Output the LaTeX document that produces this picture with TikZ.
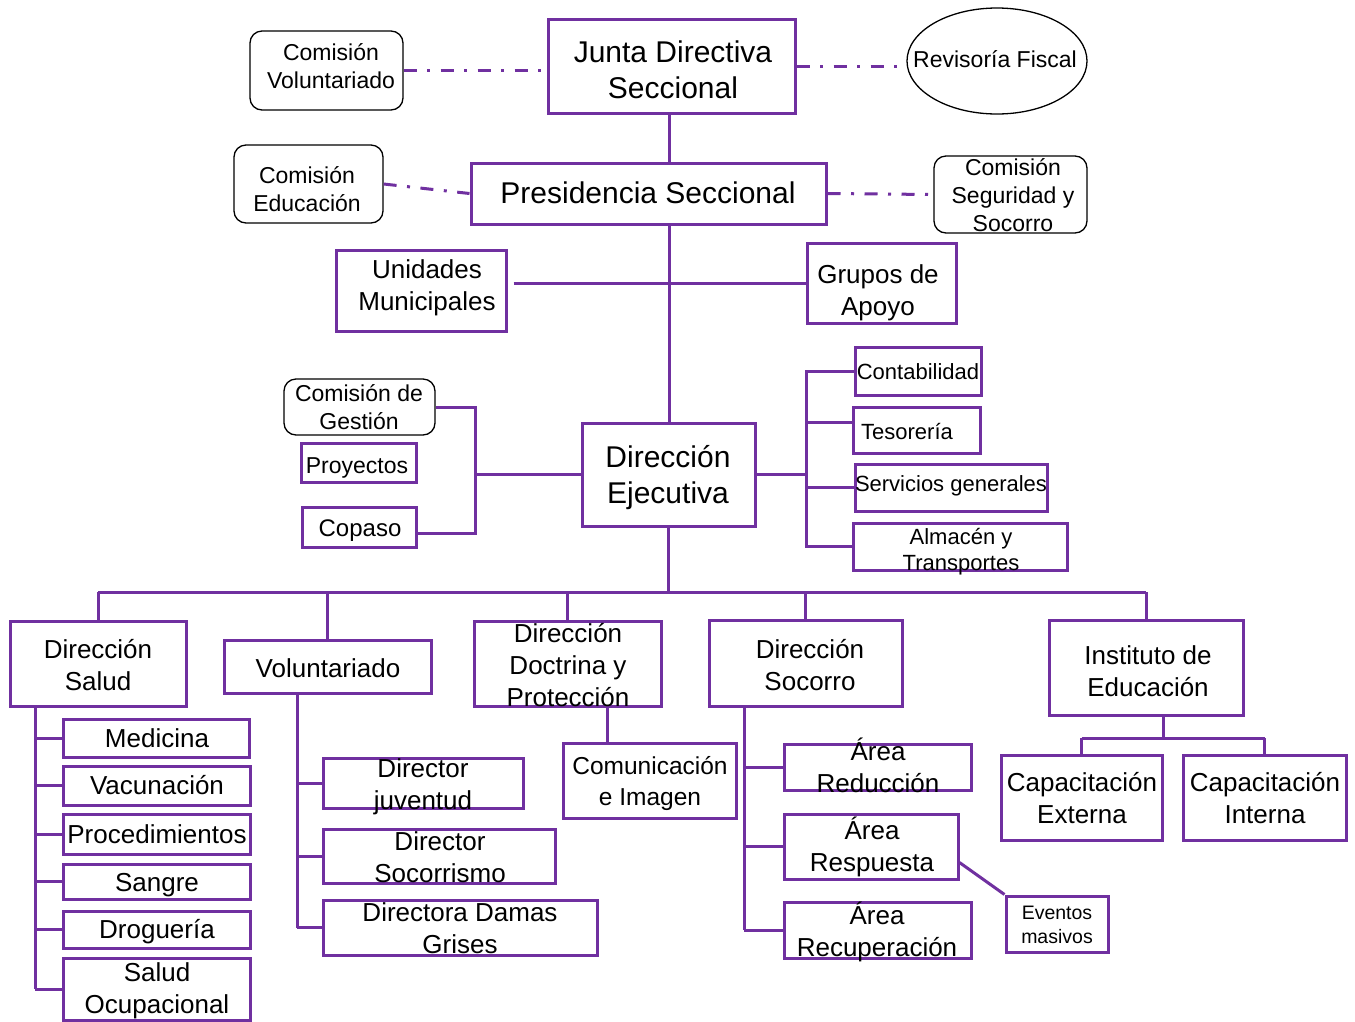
\documentclass[tikz,border=0pt]{standalone}
\usepackage{fontspec}
\setmainfont{Liberation Sans}
\usetikzlibrary{shapes.geometric}
\definecolor{orgpurple}{HTML}{7030A0}

% framed box from its corners: \ob{name}{style}{x1}{y1}{x2}{y2}
\newcommand{\ob}[6]{\node[#2, minimum width={(#5-#3)*1pt}, minimum height={(#6-#4)*1pt}] (#1) at ({(#3+#5)/2},{(#4+#6)/2}) {};}

\tikzset{
  box/.style={draw=orgpurple, line width=3pt, inner sep=0pt},
  rbox/.style={draw=black, line width=1.3pt, rounded corners=12pt, inner sep=0pt},
  lbl/.style={inner sep=0pt, align=center, text=black},
  link/.style={draw=orgpurple, line width=3pt},
  dlink/.style={draw=orgpurple, line width=3pt, dash pattern=on 13pt off 10.5pt on 3pt off 10.5pt},
  fA/.style={font=\fontsize{30}{36}\selectfont},
  fB/.style={font=\fontsize{26}{32}\selectfont},
  fBs/.style={font=\fontsize{24.5}{31}\selectfont},
  fC/.style={font=\fontsize{23}{28}\selectfont},
  fD/.style={font=\fontsize{22}{26}\selectfont},
  fE/.style={font=\fontsize{19.5}{24}\selectfont},
}

\begin{document}
\begin{tikzpicture}[x=1pt, y=-1pt]
\fill[white] (0,0) rectangle (1355,1021);
\useasboundingbox (0,0) rectangle (1355,1021);

% ---- top level ----
\ob{junta}{box}{548}{19}{795}{113}
\ob{pres}{box}{471}{163}{826}{224}
\ob{comvol}{rbox}{250}{31}{403}{110}
\ob{comedu}{rbox}{234}{145}{383}{223}
\ob{comseg}{rbox}{934}{156}{1087}{233}
\node[ellipse, draw=black, line width=1.3pt, minimum width=180pt, minimum height=106pt, inner sep=0pt] (rev) at (997,61) {};
\ob{unid}{box}{336}{250}{506}{331}
\ob{grupos}{box}{807}{243}{956}{323}
\ob{dire}{box}{582}{423}{755}{526}

% ---- staff of the executive direction ----
\ob{comges}{rbox}{284}{379}{435}{435}
\ob{proy}{box}{301}{443}{416}{482}
\ob{copaso}{box}{302}{507}{416}{547}
\ob{conta}{box}{855}{347}{981}{395}
\ob{teso}{box}{853}{407}{980}{453}
\ob{serv}{box}{855}{464}{1047}{511}
\ob{alm}{box}{853}{523}{1067}{570}

% ---- directions ----
\ob{salud}{box}{10}{621}{186}{706}
\ob{vol}{box}{224}{640}{431}{693}
\ob{doct}{box}{474}{621}{661}{706}
\ob{soc}{box}{709}{620}{902}{706}
\ob{inst}{box}{1049}{620}{1243}{715}

\ob{med}{box}{63}{719}{249}{757}
\ob{vac}{box}{63}{766}{250}{805}
\ob{proc}{box}{63}{814}{250}{854}
\ob{sangre}{box}{63}{864}{250}{899}
\ob{drog}{box}{63}{911}{250}{948}
\ob{socup}{box}{63}{958}{250}{1020}

\ob{juv}{box}{323}{758}{523}{808}
\ob{socm}{box}{323}{829}{555}{883}
\ob{damas}{box}{323}{900}{597}{955}

\ob{com}{box}{563}{743}{736}{818}

\ob{red}{box}{784}{744}{971}{790}
\ob{resp}{box}{784}{814}{958}{879}
\ob{recup}{box}{784}{902}{971}{958}
\ob{evt}{box}{1006}{896}{1108}{952}

\ob{capext}{box}{1001}{755}{1162}{840}
\ob{capint}{box}{1183}{755}{1346}{840}

% ---- texts ----
\node[lbl, fA] (junta-t) at (673,70) {Junta Directiva\\Seccional};
\node[lbl, fA] (pres-t) at (648,193) {Presidencia Seccional};
\node[lbl, fA] (dire-t) at (668,478) {Dirección\\Ejecutiva};
\node[lbl, fC] (comvol-t) at (331,66) {Comisión\\Voluntariado};
\node[lbl, fC] (comedu-t) at (307,189) {Comisión\\Educación};
\node[lbl, fC] (comseg-t) at (1013,195) {Comisión\\Seguridad y\\Socorro};
\node[lbl, fC] (rev-t) at (995,59) {Revisoría Fiscal};
\node[lbl, fB] (unid-t) at (427,288) {Unidades\\Municipales};
\node[lbl, fB] (grupos-t) at (878,293) {Grupos de\\Apoyo};

\node[lbl, fC] (comges-t) at (359,407) {Comisión de\\Gestión};
\node[lbl, fC] (proy-t) at (357,468) {Proyectos};
\node[lbl, font=\fontsize{24}{28}\selectfont] (copaso-t) at (360,531) {Copaso};
\node[lbl, fD] (conta-t) at (918,372) {Contabilidad};
\node[lbl, fD] (teso-t) at (907,431) {Tesorería};
\node[lbl, fD] (serv-t) at (951,486) {Servicios generales};
\node[lbl, fD] (alm-t) at (961,552) {Almacén y\\Transportes};

\node[lbl, fB] (salud-t) at (98,665) {Dirección\\Salud};
\node[lbl, fB] (vol-t) at (328,668) {Voluntariado};
\node[lbl, fB] (doct-t) at (568,665) {Dirección\\Doctrina y\\Protección};
\node[lbl, fB] (soc-t) at (810,665) {Dirección\\Socorro};
\node[lbl, fB] (inst-t) at (1148,671) {Instituto de\\Educación};

\node[lbl, fB] (med-t) at (157,738) {Medicina};
\node[lbl, fB] (vac-t) at (157,785) {Vacunación};
\node[lbl, fB] (proc-t) at (157,834) {Procedimientos};
\node[lbl, fB] (sangre-t) at (157,885) {Sangre};
\node[lbl, fB] (drog-t) at (157,932) {Droguería};
\node[lbl, fB] (socup-t) at (157,991) {Salud\\Ocupacional};

\node[lbl, fB] (juv-t) at (423,787) {Director\\juventud};
\node[lbl, fB] (socm-t) at (440,857) {Director\\Socorrismo};
\node[lbl, fB] (damas-t) at (460,928) {Directora Damas\\Grises};
\node[lbl, fBs] (com-t) at (650,784) {Comunicación\\e Imagen};

\node[lbl, fB] (red-t) at (878,765) {Área\\Reducción};
\node[lbl, fB] (resp-t) at (872,847) {Área\\Respuesta};
\node[lbl, fB] (recup-t) at (877,932) {Área\\Recuperación};
\node[lbl, fE] (evt-t) at (1057,925) {Eventos\\masivos};
\node[lbl, fB] (capext-t) at (1082,798) {Capacitación\\Externa};
\node[lbl, fB] (capint-t) at (1265,798) {Capacitación\\Interna};

% ---- bus positions ----
\coordinate (spine) at (669,0);
\coordinate (hbar) at (0,283);
\coordinate (lbus) at (475,0);
\coordinate (rbus) at (806,0);
\coordinate (bbus) at (0,592);
\coordinate (sbus) at (35,0);
\coordinate (vbus) at (297,0);
\coordinate (cdrop) at (607,0);
\coordinate (obus) at (744,0);
\coordinate (idrop) at (1163,0);
\coordinate (ibus) at (0,738);

% ---- advisory links ----
\draw[dlink] (comvol.east) -- (comvol.east -| junta.west);
\draw[dlink] (junta.east) -- (junta.east -| rev.west);
\draw[dlink] (comedu.east) -- (pres.west);
\draw[dlink] (pres.east) -- (comseg.west);

% ---- main spine ----
\draw[link] (junta.south -| spine) -- (pres.north -| spine);
\draw[link] (pres.south -| spine) -- (dire.north -| spine);
\draw[link] ([xshift=6pt]unid.east |- hbar) -- (grupos.west |- hbar);

% ---- executive staff ----
\draw[link] (comges.east) -- (comges.east -| lbus) -- ([yshift=-6pt]copaso.east -| lbus) -- ([yshift=-6pt]copaso.east);
\draw[link] (dire.west) -- (dire.west -| lbus);
\draw[link] (dire.east) -- (dire.east -| rbus);
\draw[link] (conta.west) -- (conta.west -| rbus) -- (alm.west -| rbus) -- (alm.west);
\draw[link] ([yshift=8pt]teso.west -| rbus) -- ([yshift=8pt]teso.west);
\draw[link] (serv.west -| rbus) -- (serv.west);

% ---- directions bus ----
\draw[link] (dire.south) -- (dire.south |- bbus);
\draw[link] (salud.north |- bbus) -- (inst.north |- bbus);
\foreach \n in {salud, vol, doct, soc, inst}
  \draw[link] (\n.north |- bbus) -- (\n.north);

% ---- health ----
\draw[link] (salud.south -| sbus) -- (socup.west -| sbus);
\foreach \n in {med, vac, proc, sangre, drog, socup}
  \draw[link] (\n.west -| sbus) -- (\n.west);

% ---- volunteers ----
\draw[link] (vol.south -| vbus) -- (damas.west -| vbus);
\foreach \n in {juv, socm, damas}
  \draw[link] (\n.west -| vbus) -- (\n.west);

% ---- doctrine ----
\draw[link] (doct.south -| cdrop) -- (com.north -| cdrop);

% ---- relief ----
\draw[link] (soc.south -| obus) -- (recup.west -| obus);
\foreach \n in {red, resp, recup}
  \draw[link] (\n.west -| obus) -- (\n.west);
\draw[link] ([yshift=-16pt]resp.east) -- (evt.north west);

% ---- education ----
\draw[link] (inst.south -| idrop) -- (idrop |- ibus);
\draw[link] (capext.north |- ibus) -- (capint.north |- ibus);
\draw[link] (capext.north |- ibus) -- (capext.north);
\draw[link] (capint.north |- ibus) -- (capint.north);
\end{tikzpicture}
\end{document}
